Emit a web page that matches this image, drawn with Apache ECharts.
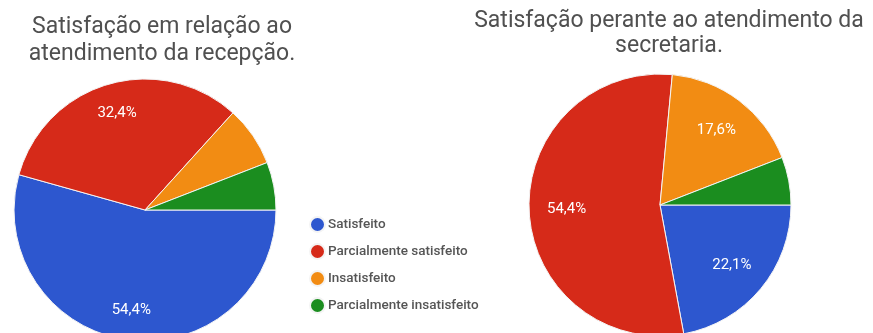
<!DOCTYPE html>
<html>
<head>
<meta charset="utf-8">
<script src="https://cdn.jsdelivr.net/npm/echarts@6/dist/echarts.min.js"></script>
<style>
html,body{margin:0;padding:0;background:#fff;}
#c{width:873px;height:333px;}
</style>
</head>
<body>
<div id="c"></div>
<script>
const categories = ['Satisfeito', 'Parcialmente satisfeito', 'Insatisfeito', 'Parcialmente insatisfeito'];
const colors = ['#2d57cf', '#d62a19', '#f28c13', '#1b8d1f'];
const recepcaoValues = [54.4, 32.4, 7.4, 5.9];
const secretariaValues = [22.1, 54.4, 17.6, 5.9];
const titleRecepcao = 'Satisfação em relação ao\natendimento da recepção.';
const titleSecretaria = 'Satisfação perante ao atendimento da\nsecretaria.';

const chart = echarts.init(document.getElementById('c'), null, {renderer: 'canvas'});

function mainSeries(values, center) {
  return {
    type: 'pie',
    center: center,
    radius: [0, 131],
    startAngle: 0,
    clockwise: true,
    silent: true,
    label: {show: false},
    labelLine: {show: false},
    itemStyle: {borderColor: '#f4f4f4', borderWidth: 1},
    data: categories.map((n, i) => ({name: n, value: values[i], itemStyle: {color: colors[i]}}))
  };
}
function labelSeries(values, center, inner) {
  return {
    type: 'pie',
    center: center,
    radius: [inner, 131],
    startAngle: 0,
    clockwise: true,
    silent: true,
    z: 5,
    itemStyle: {color: 'rgba(0,0,0,0)', borderWidth: 0},
    label: {
      show: true,
      position: 'inside',
      color: '#fff',
      fontFamily: 'Roboto',
      fontSize: 15,
      formatter: p => p.value >= 10 ? String(p.value.toFixed(1)).replace('.', ',') + '%' : ''
    },
    labelLine: {show: false},
    emphasis: {disabled: true},
    data: categories.map((n, i) => ({name: n, value: values[i]}))
  };
}

chart.setOption({
  backgroundColor: '#fff',
  animation: false,
  title: [
    {text: titleRecepcao, left: 157, top: 9, textAlign: 'center',
     textStyle: {fontFamily: 'Roboto', fontSize: 23, fontWeight: 'normal', color: '#505050', lineHeight: 27}},
    {text: titleSecretaria, left: 664, top: 4, textAlign: 'center',
     textStyle: {fontFamily: 'Roboto', fontSize: 23, fontWeight: 'normal', color: '#505050', lineHeight: 25}}
  ],
  legend: {
    orient: 'vertical',
    left: 304,
    top: 211,
    icon: 'circle',
    itemWidth: 15,
    itemHeight: 15,
    itemGap: 10,
    selectedMode: false,
    textStyle: {fontFamily: 'Roboto', fontSize: 13.5, fontWeight: 500, color: '#555', padding: [0, 0, 0, -2]},
    data: categories.map((n, i) => ({name: n, itemStyle: {color: colors[i]}}))
  },
  series: [
    mainSeries(recepcaoValues, [145, 210]),
    mainSeries(secretariaValues, [660, 205]),
    labelSeries(recepcaoValues, [145, 210], 65),
    labelSeries(secretariaValues, [660, 205], 50)
  ]
});
</script>
</body>
</html>
